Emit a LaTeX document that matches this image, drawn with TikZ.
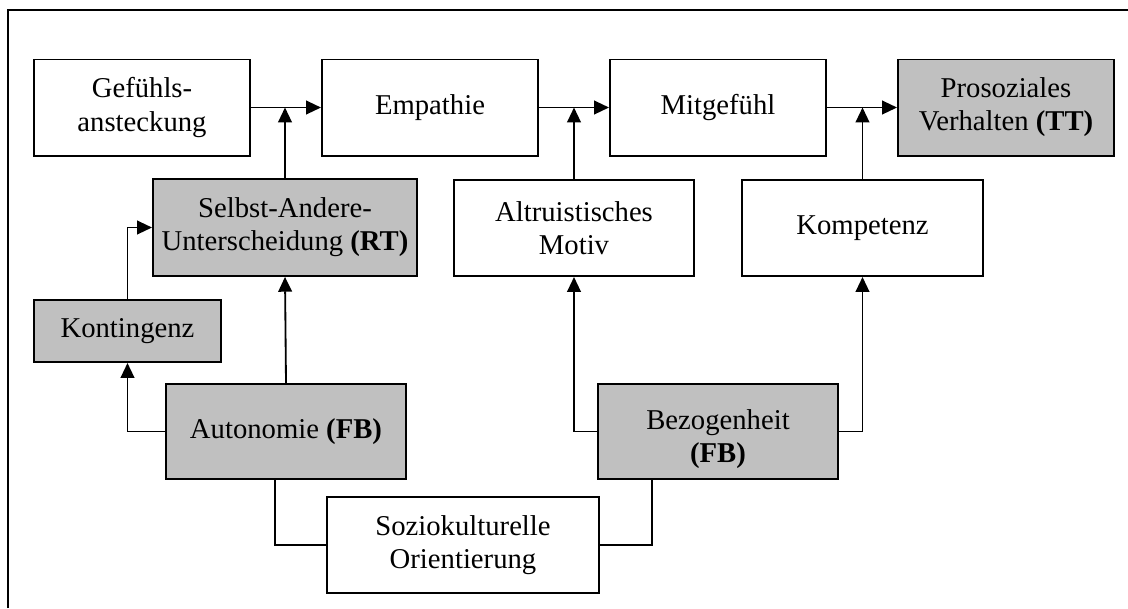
\documentclass[tikz,border=0pt]{standalone}
\usepackage{fontspec}
\setmainfont{Liberation Serif}
\usetikzlibrary{arrows.meta}

\begin{document}
\begin{tikzpicture}[x=0.025cm,y=-0.025cm,
    box/.style={draw,line width=1.4pt,fill=white,align=center,inner sep=0pt,
        font=\fontsize{20.4}{23.5}\selectfont},
    grey/.style={box,fill=shade},
    link/.style={line width=1.3pt,-{Triangle[length=0.37cm,width=0.34cm]}},
    line/.style={line width=1.3pt}]
    \definecolor{shade}{RGB}{192,192,192}
    \useasboundingbox (0,0) rectangle (1128,608);
    \draw[line width=1.9pt] (8,608) -- (8,10) -- (1128,10);

    \node[box,minimum width=5.4cm,minimum height=2.4cm] (gef) at (142,107.5) {Gefühls-\\ansteckung};
    \node[box,minimum width=5.4cm,minimum height=2.4cm] (emp) at (430,107.5) {Empathie};
    \node[box,minimum width=5.4cm,minimum height=2.4cm] (mit) at (718,107.5) {Mitgefühl};
    \node[grey,minimum width=5.4cm,minimum height=2.4cm] (pro) at (1006,107.5) {Prosoziales\\Verhalten \textbf{(TT)}};
    \node[grey,minimum width=6.6cm,minimum height=2.42cm] (sad) at (285,227.5) {Selbst-Andere-\\Unterscheidung \textbf{(RT)}};
    \node[box,minimum width=6cm,minimum height=2.4cm] (alt) at (574,228) {Altruistisches\\Motiv};
    \node[box,minimum width=6.02cm,minimum height=2.4cm] (kom) at (862.5,228) {Kompetenz};
    \node[grey,minimum width=4.67cm,minimum height=1.55cm] (kon) at (127.5,331) {Kontingenz};
    \node[grey,minimum width=6cm,minimum height=2.37cm] (aut) at (286,431.5) {Autonomie \textbf{(FB)}};
    \node[grey,minimum width=6cm,minimum height=2.37cm] (bez) at (718,431.5) {\rule{0pt}{25.5pt}Bezogenheit\\\textbf{(FB)}};
    \node[box,minimum width=6.8cm,minimum height=2.4cm] (soz) at (463,545) {Soziokulturelle\\Orientierung};

    \draw[link] (gef) -- (emp);
    \draw[link] (emp) -- (mit);
    \draw[link] (mit) -- (pro);
    \draw[link] (sad.north) -- (sad.north |- gef.east);
    \draw[link] (alt.north) -- (alt.north |- emp.east);
    \draw[link] (kom.north) -- (kom.north |- mit.east);
    \draw[link] (kon.north) |- (sad.west);
    \draw[link] (aut.north) -- (sad.south);
    \draw[link] (aut.west) -| (kon.south);
    \draw[link] (bez.west) -| (alt.south);
    \draw[link] (bez.east) -| (kom.south);
    \draw[line] ([xshift=-0.275cm]aut.south) |- (soz.west);
    \draw[line] ([xshift=-1.65cm]bez.south) |- (soz.east);
\end{tikzpicture}
\end{document}
